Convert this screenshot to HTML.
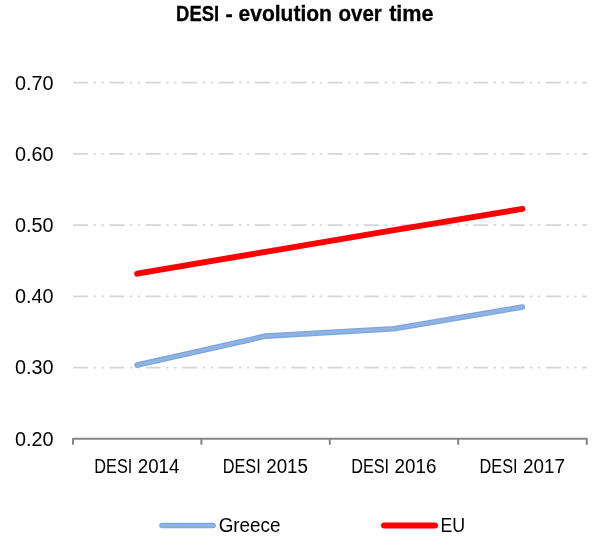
<!DOCTYPE html>
<html><head><meta charset="utf-8"><style>
html,body{margin:0;padding:0;background:#fff;}
svg{display:block;will-change:transform;}
text{font-family:"Liberation Sans",sans-serif;fill:#000;}
</style></head><body>
<svg width="600" height="547" viewBox="0 0 600 547">
<rect width="600" height="547" fill="#fff"/>
<g stroke="#d5d5d5" stroke-width="1.7" stroke-dasharray="15 5.59 2.3 5.59 2.3 5.6"><line x1="73" y1="367.58" x2="587" y2="367.58" /><line x1="73" y1="296.36" x2="587" y2="296.36" /><line x1="73" y1="225.14" x2="587" y2="225.14" /><line x1="73" y1="153.92" x2="587" y2="153.92" /><line x1="73" y1="82.70" x2="587" y2="82.70" /></g>
<path d="M73,444 V438.8 H586.8 V444 M201.4,438.8 V444 M329.8,438.8 V444 M458.2,438.8 V444" stroke="#878787" stroke-width="2" fill="none" stroke-linecap="round" stroke-linejoin="round"/>
<g>
<text x="176.12" y="21.30" font-size="21.8" font-weight="bold" textLength="42.96" lengthAdjust="spacingAndGlyphs" stroke="#000" stroke-width="0.3">DESI</text>
<text x="225.55" y="21.30" font-size="21.8" font-weight="bold" textLength="7.28" lengthAdjust="spacingAndGlyphs" stroke="#000" stroke-width="0.3">-</text>
<text x="238.53" y="21.30" font-size="21.8" font-weight="bold" textLength="93.42" lengthAdjust="spacingAndGlyphs" stroke="#000" stroke-width="0.3">evolution</text>
<text x="338.55" y="21.30" font-size="21.8" font-weight="bold" textLength="43.31" lengthAdjust="spacingAndGlyphs" stroke="#000" stroke-width="0.3">over</text>
<text x="389.14" y="21.30" font-size="21.8" font-weight="bold" textLength="44.45" lengthAdjust="spacingAndGlyphs" stroke="#000" stroke-width="0.3">time</text>
<text x="15.03" y="445.60" font-size="20" textLength="38.55" lengthAdjust="spacingAndGlyphs">0.20</text>
<text x="15.03" y="374.38" font-size="20" textLength="38.55" lengthAdjust="spacingAndGlyphs">0.30</text>
<text x="15.03" y="303.16" font-size="20" textLength="38.55" lengthAdjust="spacingAndGlyphs">0.40</text>
<text x="15.03" y="231.94" font-size="20" textLength="38.55" lengthAdjust="spacingAndGlyphs">0.50</text>
<text x="15.03" y="160.72" font-size="20" textLength="38.55" lengthAdjust="spacingAndGlyphs">0.60</text>
<text x="15.03" y="89.50" font-size="20" textLength="38.55" lengthAdjust="spacingAndGlyphs">0.70</text>
<text x="94.37" y="472.90" font-size="20" textLength="37.93" lengthAdjust="spacingAndGlyphs">DESI</text>
<text x="137.81" y="472.90" font-size="20" textLength="41.48" lengthAdjust="spacingAndGlyphs">2014</text>
<text x="222.77" y="472.90" font-size="20" textLength="37.93" lengthAdjust="spacingAndGlyphs">DESI</text>
<text x="266.21" y="472.90" font-size="20" textLength="41.73" lengthAdjust="spacingAndGlyphs">2015</text>
<text x="351.17" y="472.90" font-size="20" textLength="37.93" lengthAdjust="spacingAndGlyphs">DESI</text>
<text x="394.61" y="472.90" font-size="20" textLength="41.77" lengthAdjust="spacingAndGlyphs">2016</text>
<text x="479.57" y="472.90" font-size="20" textLength="37.93" lengthAdjust="spacingAndGlyphs">DESI</text>
<text x="523.00" y="472.90" font-size="20" textLength="41.89" lengthAdjust="spacingAndGlyphs">2017</text>
<text x="218.65" y="531.60" font-size="20" textLength="61.78" lengthAdjust="spacingAndGlyphs">Greece</text>
<text x="440.44" y="531.70" font-size="20" textLength="24.68" lengthAdjust="spacingAndGlyphs">EU</text>
</g>
<polyline points="137.2,365.09 265.6,336.10 394.0,328.77 522.4,307.04" fill="none" stroke="#7ca6dd" stroke-width="5.6" stroke-linecap="round" stroke-linejoin="round"/>
<polyline points="137.2,365.09 265.6,336.10 394.0,328.77 522.4,307.04" fill="none" stroke="#8fb3e2" stroke-width="3" stroke-linecap="round" stroke-linejoin="round"/>
<polyline points="137.2,273.64 265.6,251.85 394.0,230.13 522.4,208.90" fill="none" stroke="#ff0000" stroke-width="6" stroke-linecap="round" stroke-linejoin="round"/>
<line x1="162" y1="525.5" x2="213" y2="525.5" stroke="#7ca6dd" stroke-width="5.6" stroke-linecap="round"/>
<line x1="162" y1="525.5" x2="213" y2="525.5" stroke="#8fb3e2" stroke-width="3" stroke-linecap="round"/>
<line x1="384" y1="525.6" x2="435" y2="525.6" stroke="#ff0000" stroke-width="6" stroke-linecap="round"/>
</svg>
</body></html>
